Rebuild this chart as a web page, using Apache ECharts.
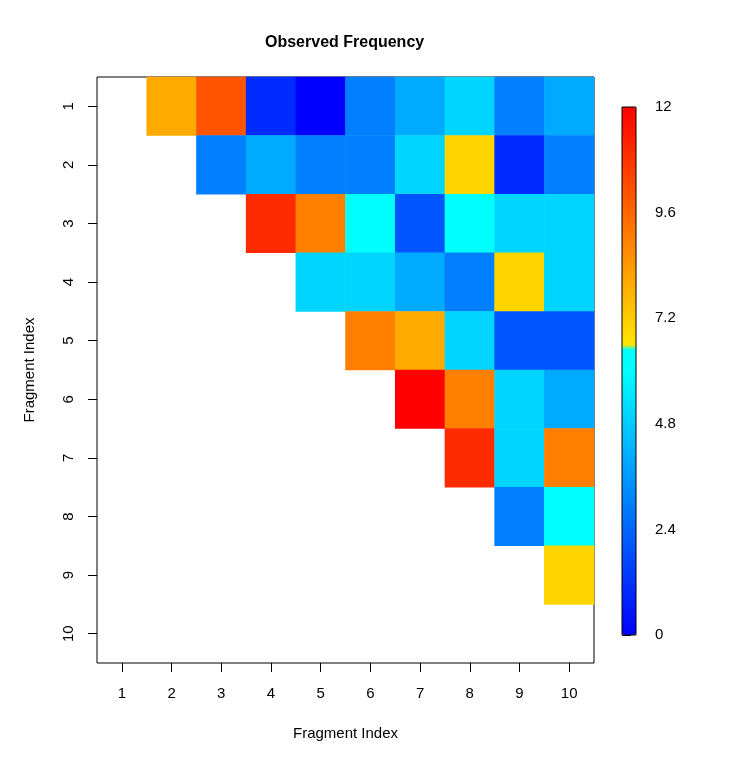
<!DOCTYPE html>
<html>
<head>
<meta charset="utf-8">
<script src="https://cdn.jsdelivr.net/npm/echarts@6/dist/echarts.min.js"></script>
<style>html,body{margin:0;padding:0;background:#fff}#c{width:730px;height:762px}</style>
</head>
<body>
<div id="c"></div>
<script>
// ---- data ----
const xCategories = ['1','2','3','4','5','6','7','8','9','10'];
const yCategories = ['1','2','3','4','5','6','7','8','9','10'];
// upper-triangle rows: row i holds values for columns i+1..10
const row1 = [8, 10, 1, 0, 3, 4, 5, 3, 4];
const row2 = [3, 4, 3, 3, 5, 7, 1, 3];
const row3 = [11, 9, 6, 2, 6, 5, 5];
const row4 = [5, 5, 4, 3, 7, 5];
const row5 = [9, 8, 5, 2, 2];
const row6 = [12, 9, 5, 4];
const row7 = [11, 5, 9];
const row8 = [3, 6];
const row9 = [7];
const colorbarTicks = [0, 2.4, 4.8, 7.2, 9.6, 12];
const titleText = 'Observed Frequency';
const axisName = 'Fragment Index';

const rows = [row1,row2,row3,row4,row5,row6,row7,row8,row9];
const heatData = [];
rows.forEach((r, i) => {
  r.forEach((v, k) => {
    heatData.push([i + 1 + k, i, v]); // [xIndex, yIndex, value]
  });
});

// colour ramp: blue->cyan for the low part, yellow->red for the high part
function rampColor(v) {
  let r, g, b;
  if (v < 6.6) { r = 0; g = Math.round(255 * Math.min(v / 6, 1)); b = 255; }
  else { r = 255; g = Math.round(255 * Math.min((12 - v) / 6, 1)); b = 0; }
  const h = n => n.toString(16).padStart(2, '0');
  return '#' + h(r) + h(g) + h(b);
}
const rampStops = [];
for (let i = 0; i <= 240; i++) rampStops.push(rampColor(i * 12 / 240));

const FONT = "'Liberation Sans', Arial, sans-serif";
const chart = echarts.init(document.getElementById('c'), null, {renderer: 'canvas'});
chart.setOption({
  backgroundColor: '#fff',
  animation: false,
  title: {
    text: titleText, left: 260, top: 30,
    textStyle: {fontFamily: FONT, fontSize: 16, fontWeight: 'bold', color: '#000'}
  },
  grid: [
    {left: 97, top: 77, width: 497, height: 586, show: true, borderColor: '#000', borderWidth: 1, backgroundColor: 'transparent'},
    {left: 622, top: 107, width: 14, height: 528, show: true, borderColor: '#000', borderWidth: 1, backgroundColor: 'transparent', z: 10}
  ],
  xAxis: [
    {
      type: 'category', data: xCategories, gridIndex: 0,
      name: axisName, nameLocation: 'middle', nameGap: 63,
      nameTextStyle: {fontFamily: FONT, fontSize: 15, color: '#000'},
      axisLine: {show: false},
      axisTick: {show: true, alignWithLabel: true, length: 9, lineStyle: {color: '#000'}},
      axisLabel: {fontFamily: FONT, fontSize: 15, color: '#000', margin: 23},
      splitLine: {show: false}
    },
    {type: 'value', gridIndex: 1, show: false, min: 0, max: 1}
  ],
  yAxis: [
    {
      type: 'category', data: yCategories, gridIndex: 0, inverse: true,
      name: axisName, nameLocation: 'middle', nameGap: 60, nameRotate: 90,
      nameTextStyle: {fontFamily: FONT, fontSize: 15, color: '#000'},
      axisLine: {show: false},
      axisTick: {show: true, alignWithLabel: true, length: 9, lineStyle: {color: '#000'}},
      axisLabel: {fontFamily: FONT, fontSize: 15, color: '#000', rotate: 90, margin: 21},
      splitLine: {show: false}
    },
    {
      type: 'value', gridIndex: 1, position: 'right', min: colorbarTicks[0], max: colorbarTicks[colorbarTicks.length - 1],
      interval: colorbarTicks[1] - colorbarTicks[0],
      axisLine: {show: false},
      axisTick: {show: true, length: 9, lineStyle: {color: '#000'}},
      axisLabel: {fontFamily: FONT, fontSize: 15, color: '#000', margin: 19,
        formatter: v => String(Math.round(v * 10) / 10)},
      splitLine: {show: false}
    }
  ],
  visualMap: {
    type: 'continuous', min: 0, max: 12, seriesIndex: 0,
    calculable: false, orient: 'vertical', left: 622, top: 107, padding: 0,
    itemWidth: 14, itemHeight: 528, text: null, showLabel: false,
    inRange: {color: rampStops}
  },
  series: [{
    type: 'heatmap', xAxisIndex: 0, yAxisIndex: 0, data: heatData,
    itemStyle: {borderWidth: 0},
    emphasis: {disabled: true}
  }]
});
</script>
</body>
</html>
